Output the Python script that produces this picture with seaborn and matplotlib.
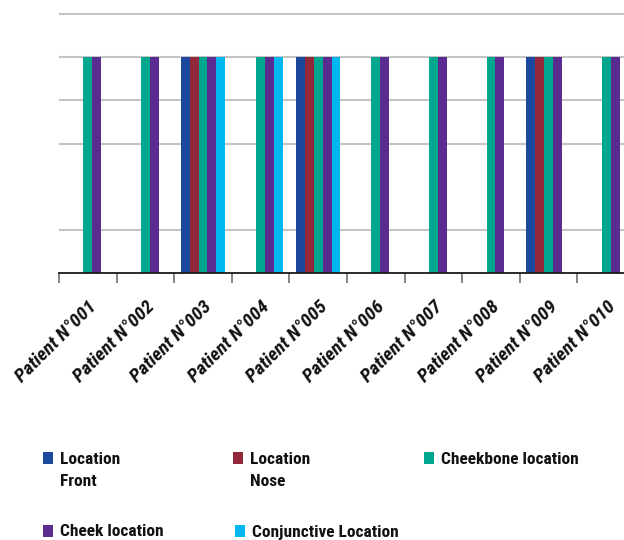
import matplotlib
matplotlib.use("Agg")
import matplotlib.pyplot as plt
from matplotlib import font_manager
from matplotlib.patches import Rectangle
import seaborn as sns
import pandas as pd

# ---- data -------------------------------------------------------------
patients = ["Patient N°001", "Patient N°002", "Patient N°003", "Patient N°004",
            "Patient N°005", "Patient N°006", "Patient N°007", "Patient N°008",
            "Patient N°009", "Patient N°010"]
locations = ["Location\nFront", "Location\nNose", "Cheekbone location",
             "Cheek location", "Conjunctive Location"]
front = [0, 0, 1, 0, 1, 0, 0, 0, 1, 0]
nose = [0, 0, 1, 0, 1, 0, 0, 0, 1, 0]
cheekbone = [1, 1, 1, 1, 1, 1, 1, 1, 1, 1]
cheek = [1, 1, 1, 1, 1, 1, 1, 1, 1, 1]
conjunctive = [0, 0, 1, 1, 1, 0, 0, 0, 0, 0]
colors = ["#1B479C", "#93283A", "#00A68E", "#5B2C8F", "#00B8EF"]

series = [front, nose, cheekbone, cheek, conjunctive]
df = pd.DataFrame(
    [(p, loc, vals[i]) for loc, vals in zip(locations, series)
     for i, p in enumerate(patients)],
    columns=["patient", "location", "value"],
)

# ---- fonts ------------------------------------------------------------
available = {f.name for f in font_manager.fontManager.ttflist}
family = "Open Sans"
for cand in ["Liberation Sans Narrow", "Roboto Condensed", "Open Sans Condensed",
             "Roboto", "Open Sans"]:
    if cand in available:
        family = cand
        break

sns.set_theme(style="white")
plt.rcParams["font.family"] = [family, "DejaVu Sans"]

W, H = 624, 540
fig = plt.figure(figsize=(W / 100, H / 100), dpi=100)

# axes: x-axis line at y=273px, 1.2 gridline at y=14px, groups 57.6px wide
px_per_unit = (273 - 14) / 1.2
ytop = 1.22
ax = fig.add_axes([59 / W, (H - 273) / H, 576 / W, ytop * px_per_unit / H])

sns.barplot(data=df, x="patient", y="value", hue="location",
            hue_order=locations, palette=colors, saturation=1,
            width=0.77, dodge=True, legend=False, ax=ax, zorder=3,
            edgecolor="none", linewidth=0)

ax.set_xlim(-0.5, len(patients) - 0.5)
ax.set_ylim(0, ytop)
ax.set_xlabel("")
ax.set_ylabel("")

# horizontal gridlines
ax.set_yticks([0.2, 0.6, 0.8, 1.0, 1.2])
ax.set_yticklabels([])
ax.tick_params(axis="y", length=0)
ax.yaxis.grid(True, color="#C4C4C4", linewidth=1.5, zorder=0)
ax.set_axisbelow(True)

for s in ["left", "right", "top"]:
    ax.spines[s].set_visible(False)
ax.spines["bottom"].set_color("#1A1A1A")
ax.spines["bottom"].set_linewidth(1.3)
ax.spines["bottom"].set_zorder(4)

# category boundary ticks
ax.set_xticks([i - 0.5 for i in range(len(patients) + 1)], minor=True)
ax.tick_params(axis="x", which="minor", length=7, width=1.3, color="#7A7A7A",
               direction="out", bottom=True)
ax.tick_params(axis="x", which="major", length=0, pad=18)
ax.set_xticks(range(len(patients)))
ax.set_xticklabels(patients, rotation=45, ha="right", va="top",
                   rotation_mode="anchor", fontsize=14,
                   fontweight="semibold", fontstyle="italic", color="#111111")

# legend laid out in a 3-column grid below the chart
legend_pos = [(43, 452), (233, 452), (424, 452), (43, 525), (235, 525)]
for (x, y), lab, col in zip(legend_pos, locations, colors):
    fig.add_artist(Rectangle((x / W, 1 - (y + 11.5) / H), 10 / W, 11.5 / H,
                             transform=fig.transFigure, facecolor=col,
                             edgecolor="none"))
    fig.text((x + 17) / W, 1 - (y - 0.5) / H, lab, fontsize=12.5,
             fontweight="bold", color="#111111", va="top", ha="left",
             linespacing=1.6)

fig.savefig("out.png", dpi=100)
